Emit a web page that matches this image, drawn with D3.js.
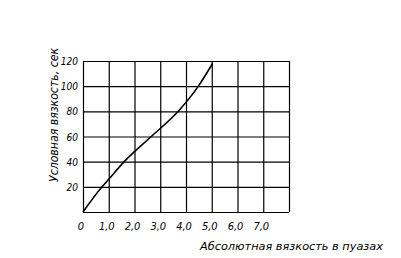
<!DOCTYPE html>
<html>
<head>
<meta charset="utf-8">
<script src="https://cdn.jsdelivr.net/npm/d3@7"></script>
<style>
  body { margin: 0; background: #fff; }
  text { font-family: "DejaVu Sans Condensed", "DejaVu Sans", sans-serif; font-style: italic; fill: #000; }
  .grid line { stroke: #000; stroke-width: 1.2; }
  .grid path { display: none; }
</style>
</head>
<body>
<script>
// Absolute viscosity (poise) vs conventional viscosity (sec)
const absVisc = [0, 0.74, 1.0, 1.6, 2.65, 3.7, 4.48, 5.03];
const condVisc = [0, 20, 26, 40, 60, 80, 100, 118];

const xTicks = [0, 1, 2, 3, 4, 5, 6, 7, 8];
const xTickLabels = ["0", "1,0", "2,0", "3,0", "4,0", "5,0", "6,0", "7,0", ""];
const yTicks = [0, 20, 40, 60, 80, 100, 120];
const yTickLabels = ["", "20", "40", "60", "80", "100", "120"];

const xTitle = "Абсолютная вязкость в пуазах";
const yTitle = "Условная вязкость, сек";

document.addEventListener("DOMContentLoaded", function() {
    const w = 401, h = 258;
    const left = 83, right = 289, top = 61, bottom = 212;

    const xScale = d3.scaleLinear().domain([0, 8]).range([left, right]);
    const yScale = d3.scaleLinear().domain([0, 120]).range([bottom, top]);

    const svg = d3.select("body").append("svg").attr("width", w).attr("height", h);

    // grid lines, drawn as axes with full-length ticks
    svg.append("g")
        .attr("class", "grid")
        .attr("transform", "translate(0," + bottom + ")")
        .call(d3.axisBottom(xScale).tickValues(xTicks).tickSize(-(bottom - top)).tickFormat(""))
        .selectAll("line")
        .attr("stroke-width", (d) => (d >= 4 && d <= 6) ? 2 : 1.2);

    svg.append("g")
        .attr("class", "grid")
        .attr("transform", "translate(" + left + ",0)")
        .call(d3.axisLeft(yScale).tickValues(yTicks).tickSize(-(right - left)).tickFormat(""))
        .selectAll("line")
        .attr("stroke-width", (d) => (d == 120 || d == 80) ? 2 : 1.2);

    // tick labels
    svg.append("g").selectAll("text")
        .data(xTicks)
        .enter()
        .append("text")
        .attr("x", (d) => xScale(d) - 2)
        .attr("y", 230)
        .attr("text-anchor", "middle")
        .attr("font-size", 11)
        .text((d, i) => xTickLabels[i]);

    svg.append("g").selectAll("text")
        .data(yTicks)
        .enter()
        .append("text")
        .attr("x", 78)
        .attr("y", (d) => yScale(d) + 4)
        .attr("text-anchor", "end")
        .attr("font-size", 10)
        .text((d, i) => yTickLabels[i]);

    // the curve
    const points = absVisc.map((d, i) => [d, condVisc[i]]);
    svg.append("path")
        .datum(points)
        .attr("fill", "none")
        .attr("stroke", "#000")
        .attr("stroke-width", 1.6)
        .attr("d", d3.line().x((d) => xScale(d[0])).y((d) => yScale(d[1])).curve(d3.curveMonotoneX));

    // axis titles
    svg.append("text")
        .attr("x", 200)
        .attr("y", 250)
        .attr("font-size", 11)
        .attr("textLength", 183)
        .attr("lengthAdjust", "spacingAndGlyphs")
        .text(xTitle);

    svg.append("text")
        .attr("transform", "translate(58,182) rotate(-90)")
        .attr("font-size", 12)
        .attr("textLength", 134)
        .attr("lengthAdjust", "spacingAndGlyphs")
        .text(yTitle);
});
</script>
</body>
</html>
